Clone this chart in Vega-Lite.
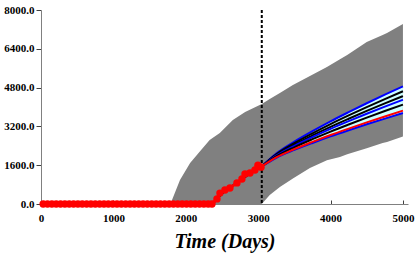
{
  "$schema": "https://vega.github.io/schema/vega-lite/v6.json",
  "autosize": "none",
  "width": 367,
  "height": 194,
  "padding": {"left": 41, "top": 10, "right": 7, "bottom": 49},
  "background": "white",
  "config": {
    "view": {"stroke": null},
    "font": "Liberation Serif",
    "axis": {"labelFont": "Liberation Serif", "labelFontWeight": "bold", "labelFontSize": 11, "labelColor": "black",
      "labelOverlap": false, "labelBound": false, "labelFlush": false, "grid": false,
      "domainColor": "#808080", "tickColor": "#404040"},
    "axisX": {"tickSize": -4, "labelPadding": 12},
    "axisY": {"tickSize": 5, "labelPadding": 2}
  },
  "datasets": {
    "band": [
      {"t": 1780, "lo": 0, "hi": 0},
      {"t": 1810, "lo": 0, "hi": 170},
      {"t": 1920, "lo": 0, "hi": 990},
      {"t": 2060, "lo": 0, "hi": 1690},
      {"t": 2200, "lo": 0, "hi": 2190},
      {"t": 2330, "lo": 0, "hi": 2640},
      {"t": 2470, "lo": 0, "hi": 2930},
      {"t": 2650, "lo": 0, "hi": 3460},
      {"t": 2820, "lo": 0, "hi": 3790},
      {"t": 3050, "lo": 0, "hi": 4120},
      {"t": 3160, "lo": 370, "hi": 4330},
      {"t": 3300, "lo": 700, "hi": 4580},
      {"t": 3480, "lo": 1050, "hi": 4910},
      {"t": 3715, "lo": 1480, "hi": 5280},
      {"t": 3950, "lo": 1800, "hi": 5650},
      {"t": 4130, "lo": 1940, "hi": 5970},
      {"t": 4230, "lo": 2050, "hi": 6140},
      {"t": 4500, "lo": 2300, "hi": 6680},
      {"t": 4720, "lo": 2515, "hi": 6970},
      {"t": 4780, "lo": 2560, "hi": 7050},
      {"t": 5000, "lo": 2780, "hi": 7420}
    ],
    "fan": [
      {"t": 3050, "lo": 1550, "hi": 1550},
      {"t": 3250, "lo": 1904, "hi": 2081},
      {"t": 3500, "lo": 2230, "hi": 2570},
      {"t": 3750, "lo": 2518, "hi": 3002},
      {"t": 4000, "lo": 2789, "hi": 3408},
      {"t": 4250, "lo": 3042, "hi": 3787},
      {"t": 4500, "lo": 3286, "hi": 4154},
      {"t": 4750, "lo": 3521, "hi": 4507},
      {"t": 5000, "lo": 3750, "hi": 4850}
    ],
    "lines": [
      {"s": "p_hi", "t": 3050, "v": 1550}, {"s": "p_hi", "t": 3250, "v": 2081}, {"s": "p_hi", "t": 3500, "v": 2570}, {"s": "p_hi", "t": 3750, "v": 3002}, {"s": "p_hi", "t": 4000, "v": 3408}, {"s": "p_hi", "t": 4250, "v": 3787}, {"s": "p_hi", "t": 4500, "v": 4154}, {"s": "p_hi", "t": 4750, "v": 4507}, {"s": "p_hi", "t": 5000, "v": 4850},
      {"s": "p_lo", "t": 3050, "v": 1550}, {"s": "p_lo", "t": 3250, "v": 1904}, {"s": "p_lo", "t": 3500, "v": 2230}, {"s": "p_lo", "t": 3750, "v": 2518}, {"s": "p_lo", "t": 4000, "v": 2789}, {"s": "p_lo", "t": 4250, "v": 3042}, {"s": "p_lo", "t": 4500, "v": 3286}, {"s": "p_lo", "t": 4750, "v": 3521}, {"s": "p_lo", "t": 5000, "v": 3750},
      {"s": "m1", "t": 3050, "v": 1550}, {"s": "m1", "t": 3250, "v": 2049}, {"s": "m1", "t": 3500, "v": 2508}, {"s": "m1", "t": 3750, "v": 2914}, {"s": "m1", "t": 4000, "v": 3295}, {"s": "m1", "t": 4250, "v": 3652}, {"s": "m1", "t": 4500, "v": 3996}, {"s": "m1", "t": 4750, "v": 4328}, {"s": "m1", "t": 5000, "v": 4650},
      {"s": "m2", "t": 3050, "v": 1550}, {"s": "m2", "t": 3250, "v": 2017}, {"s": "m2", "t": 3500, "v": 2446}, {"s": "m2", "t": 3750, "v": 2826}, {"s": "m2", "t": 4000, "v": 3183}, {"s": "m2", "t": 4250, "v": 3516}, {"s": "m2", "t": 4500, "v": 3838}, {"s": "m2", "t": 4750, "v": 4148}, {"s": "m2", "t": 5000, "v": 4450},
      {"s": "bm", "t": 3050, "v": 1550}, {"s": "bm", "t": 3250, "v": 1993}, {"s": "bm", "t": 3500, "v": 2400}, {"s": "bm", "t": 3750, "v": 2760}, {"s": "bm", "t": 4000, "v": 3098}, {"s": "bm", "t": 4250, "v": 3415}, {"s": "bm", "t": 4500, "v": 3720}, {"s": "bm", "t": 4750, "v": 4014}, {"s": "bm", "t": 5000, "v": 4300},
      {"s": "m3", "t": 3050, "v": 1550}, {"s": "m3", "t": 3250, "v": 1961}, {"s": "m3", "t": 3500, "v": 2338}, {"s": "m3", "t": 3750, "v": 2672}, {"s": "m3", "t": 4000, "v": 2986}, {"s": "m3", "t": 4250, "v": 3279}, {"s": "m3", "t": 4500, "v": 3562}, {"s": "m3", "t": 4750, "v": 3835}, {"s": "m3", "t": 5000, "v": 4100},
      {"s": "rf", "t": 3050, "v": 1550}, {"s": "rf", "t": 3250, "v": 1920}, {"s": "rf", "t": 3500, "v": 2261}, {"s": "rf", "t": 3750, "v": 2562}, {"s": "rf", "t": 4000, "v": 2845}, {"s": "rf", "t": 4250, "v": 3109}, {"s": "rf", "t": 4500, "v": 3365}, {"s": "rf", "t": 4750, "v": 3611}, {"s": "rf", "t": 5000, "v": 3850},
      {"s": "hist", "t": 2370, "v": 0}, {"s": "hist", "t": 2500, "v": 420}, {"s": "hist", "t": 2650, "v": 760}, {"s": "hist", "t": 2800, "v": 1080}, {"s": "hist", "t": 2950, "v": 1370}, {"s": "hist", "t": 3050, "v": 1550}
    ],
    "obs": [
      {"t": 30, "v": 0}, {"t": 90, "v": 0}, {"t": 150, "v": 0}, {"t": 210, "v": 0}, {"t": 270, "v": 0}, {"t": 330, "v": 0}, {"t": 390, "v": 0}, {"t": 450, "v": 0}, {"t": 510, "v": 0}, {"t": 570, "v": 0},
      {"t": 630, "v": 0}, {"t": 690, "v": 0}, {"t": 750, "v": 0}, {"t": 810, "v": 0}, {"t": 870, "v": 0}, {"t": 930, "v": 0}, {"t": 990, "v": 0}, {"t": 1050, "v": 0}, {"t": 1110, "v": 0}, {"t": 1170, "v": 0},
      {"t": 1230, "v": 0}, {"t": 1290, "v": 0}, {"t": 1350, "v": 0}, {"t": 1410, "v": 0}, {"t": 1470, "v": 0}, {"t": 1530, "v": 0}, {"t": 1590, "v": 0}, {"t": 1650, "v": 0}, {"t": 1710, "v": 0}, {"t": 1770, "v": 0},
      {"t": 1830, "v": 0}, {"t": 1890, "v": 0}, {"t": 1950, "v": 0}, {"t": 2010, "v": 0}, {"t": 2070, "v": 0}, {"t": 2130, "v": 0}, {"t": 2190, "v": 0}, {"t": 2250, "v": 0}, {"t": 2310, "v": 0}, {"t": 2362, "v": 0},
      {"t": 2431, "v": 210}, {"t": 2472, "v": 450}, {"t": 2541, "v": 580}, {"t": 2610, "v": 660}, {"t": 2707, "v": 870}, {"t": 2776, "v": 1030}, {"t": 2818, "v": 1240}, {"t": 2887, "v": 1280}, {"t": 2956, "v": 1400}, {"t": 2997, "v": 1600}, {"t": 3040, "v": 1520}
    ]
  },
  "encoding": {
    "x": {"type": "quantitative", "scale": {"domain": [0, 5070], "nice": false},
      "axis": {"values": [0, 1000, 2000, 3000, 4000, 5000], "format": "d",
        "title": "Time (Days)", "titleFont": "Liberation Serif", "titleFontSize": 20, "titleFontWeight": "bold",
        "titleFontStyle": "italic", "titleColor": "black", "titlePadding": 8}},
    "y": {"type": "quantitative", "scale": {"domain": [0, 8000], "nice": false},
      "axis": {"values": [0, 1600, 3200, 4800, 6400, 8000], "format": ".1f", "title": null}}
  },
  "layer": [
    {
      "data": {"name": "band"},
      "mark": {"type": "area", "color": "#808080", "opacity": 1},
      "encoding": {
        "x": {"field": "t"},
        "y": {"field": "lo"},
        "y2": {"field": "hi"}
      }
    },
    {
      "data": {"name": "fan"},
      "mark": {"type": "area", "color": "#ccffff", "opacity": 1, "interpolate": "monotone"},
      "encoding": {
        "x": {"field": "t"},
        "y": {"field": "lo"},
        "y2": {"field": "hi"}
      }
    },
    {
      "data": {"name": "lines"},
      "mark": {"type": "line", "interpolate": "monotone"},
      "encoding": {
        "x": {"field": "t"},
        "y": {"field": "v"},
        "detail": {"field": "s"},
        "color": {"field": "s", "type": "nominal", "legend": null,
          "scale": {"domain": ["p_hi", "p_lo", "m1", "m2", "bm", "m3", "rf", "hist"],
                    "range": ["#0000ff", "#0000ff", "#000000", "#000000", "#0000ff", "#000000", "#ff0000", "#000000"]}},
        "strokeWidth": {"field": "s", "type": "nominal", "legend": null,
          "scale": {"domain": ["p_hi", "p_lo", "m1", "m2", "bm", "m3", "rf", "hist"],
                    "range": [2, 2, 3, 3, 3, 3, 3, 2]}}
      }
    },
    {
      "data": {"values": [{"t": 3050}]},
      "mark": {"type": "rule", "color": "black", "strokeWidth": 2, "strokeDash": [3, 2]},
      "encoding": {"x": {"field": "t"}, "y": null}
    },
    {
      "data": {"name": "obs"},
      "mark": {"type": "line", "color": "#ff0000", "strokeWidth": 3},
      "encoding": {
        "x": {"field": "t"},
        "y": {"field": "v"}
      }
    },
    {
      "data": {"name": "obs"},
      "mark": {"type": "point", "filled": true, "color": "#ff0000", "opacity": 1, "size": 55},
      "encoding": {
        "x": {"field": "t"},
        "y": {"field": "v"}
      }
    }
  ]
}
